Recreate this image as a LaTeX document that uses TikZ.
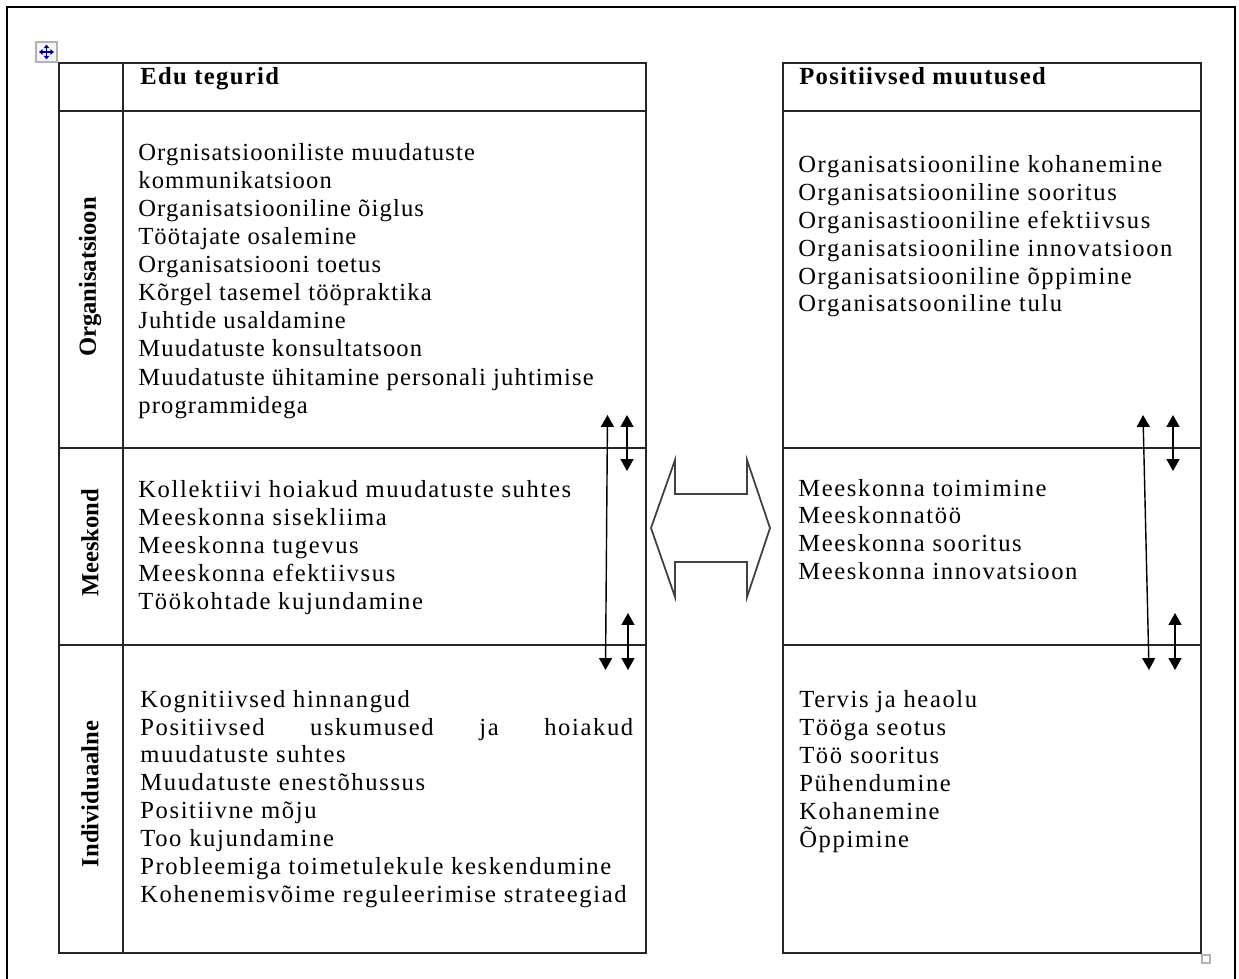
\documentclass[tikz,border=0pt]{standalone}
\usepackage{fontspec}
\setmainfont{Liberation Serif}
\newfontfamily\orgfont[LetterSpace=4.6]{Liberation Serif}
\newfontfamily\wfont[LetterSpace=6.6]{Liberation Serif}
\newfontfamily\hfont[LetterSpace=5.5]{Liberation Serif}
\usetikzlibrary{arrows.meta}
\begin{document}
\begin{tikzpicture}[x=0.02cm,y=-0.02cm,
  frame/.style={line width=1.3pt},
  gridline/.style={line width=1pt, draw=black!85},
  otxt/.style={anchor=base west, inner sep=0pt, font=\fontsize{14}{16}\orgfont},
  txt/.style={anchor=base west, inner sep=0pt, font=\fontsize{14}{16}\wfont},
  head/.style={anchor=base west, inner sep=0pt, font=\fontsize{14}{16}\hfont\bfseries},
  side/.style={rotate=90, inner sep=0pt, font=\fontsize{14}{16}\selectfont\bfseries},
  dbl/.style={{Triangle[length=6.8pt,width=7.4pt]}-{Triangle[length=6.8pt,width=7.4pt]}, line width=0.8pt},
  bigarrow/.style={draw=black!75, line width=1pt, line join=miter},
  mv/.style={draw=blue!65!black, line width=0.6pt, {Triangle[length=2pt,width=3pt]}-{Triangle[length=2pt,width=3pt]}}
]
\useasboundingbox (0,0) rectangle (1239,979);
% outer frame (open at bottom)
\draw[frame] (7,979) -- (7,7) -- (1235,7) -- (1235,979);
% move handle
\draw[gray!60, fill=gray!8, line width=0.6pt] (36,42) rectangle (57,62);
\coordinate (mvl) at (39,52); \coordinate (mvr) at (54,52);
\coordinate (mvt) at (46.5,44.5); \coordinate (mvb) at (46.5,59.5);
\draw[mv] (mvl) -- (mvr);
\draw[mv] (mvt) -- (mvb);
% left table
\draw[gridline] (59,63) rectangle (646,953);
\draw[gridline] (123,63) -- (123,953);
\foreach \yy in {111,448,645} \draw[gridline] (59,\yy) -- (646,\yy);
% right table
\draw[gridline] (783,63) rectangle (1201,953);
\foreach \yy in {111,448,645} \draw[gridline] (783,\yy) -- (1201,\yy);
\draw[gray!60, line width=0.6pt] (1202,955) rectangle (1210,963);
% headers
\node[head] (h1) at (140,85) {Edu tegurid};
\node[head] (h2) at (799,85) {Positiivsed muutused};
% side labels
\node[side] (s1) at (90,277) {Organisatsioon};
\node[side] (s2) at (90,543) {Meeskond};
\node[side] (s3) at (90,794) {Individuaalne};
% left texts
\foreach \t [count=\i] in {Orgnisatsiooniliste muudatuste, kommunikatsioon, Organisatsiooniline õiglus, Töötajate osalemine, Organisatsiooni toetus, Kõrgel tasemel tööpraktika, Juhtide usaldamine, Muudatuste konsultatsoon, Muudatuste ühitamine personali juhtimise, programmidega}
  \node[otxt] (lo\i) at (138,{161+28*(\i-1)}) {\t};
\foreach \t [count=\i] in {Kollektiivi hoiakud muudatuste suhtes, Meeskonna sisekliima, Meeskonna tugevus, Meeskonna efektiivsus, Töökohtade kujundamine}
  \node[txt] (lm\i) at (138,{497+28*(\i-1)}) {\t};
\node[txt] (li1) at (140,707) {Kognitiivsed hinnangud};
\node[txt] (li2) at (140,735) {\makebox[9.86cm][s]{Positiivsed\hfill uskumused\hfill ja\hfill hoiakud}};
\foreach \t [count=\i from 3] in {muudatuste suhtes, Muudatuste enestõhussus, Positiivne mõju, Too kujundamine, Probleemiga toimetulekule keskendumine, Kohenemisvõime reguleerimise strateegiad}
  \node[txt] (li\i) at (140,{707+27.9*(\i-1)}) {\t};
% right texts
\foreach \t [count=\i] in {Organisatsiooniline kohanemine, Organisatsiooniline sooritus, Organisastiooniline efektiivsus, Organisatsiooniline innovatsioon, Organisatsiooniline õppimine, Organisatsooniline tulu}
  \node[txt] (ro\i) at (798,{173+27.8*(\i-1)}) {\t};
\foreach \t [count=\i] in {Meeskonna toimimine, Meeskonnatöö, Meeskonna sooritus, Meeskonna innovatsioon}
  \node[txt] (rm\i) at (798,{496+27.7*(\i-1)}) {\t};
\foreach \t [count=\i] in {Tervis ja heaolu, Tööga seotus, Töö sooritus, Pühendumine, Kohanemine, Õppimine}
  \node[txt] (ri\i) at (799,{707+28*(\i-1)}) {\t};
% left arrows
\coordinate (la1) at (607.5,415); \coordinate (la2) at (605.5,670);
\coordinate (ls1a) at (627,415); \coordinate (ls1b) at (627,471);
\coordinate (ls2a) at (628,613); \coordinate (ls2b) at (628,670);
\draw[dbl] (la1) -- (la2);
\draw[dbl] (ls1a) -- (ls1b);
\draw[dbl] (ls2a) -- (ls2b);
% right arrows
\coordinate (ra1) at (1143,415); \coordinate (ra2) at (1149,670);
\coordinate (rs1a) at (1173,415); \coordinate (rs1b) at (1173,471);
\coordinate (rs2a) at (1175,613); \coordinate (rs2b) at (1175,670);
\draw[dbl] (ra1) -- (ra2);
\draw[dbl] (rs1a) -- (rs1b);
\draw[dbl] (rs2a) -- (rs2b);
% big hollow double arrow
\draw[bigarrow] (651,528) -- (675,460) -- (675,494) -- (747,494) -- (747,460) -- (770,528) -- (747,597) -- (747,562) -- (675,562) -- (675,597) -- cycle;
\end{tikzpicture}
\end{document}
